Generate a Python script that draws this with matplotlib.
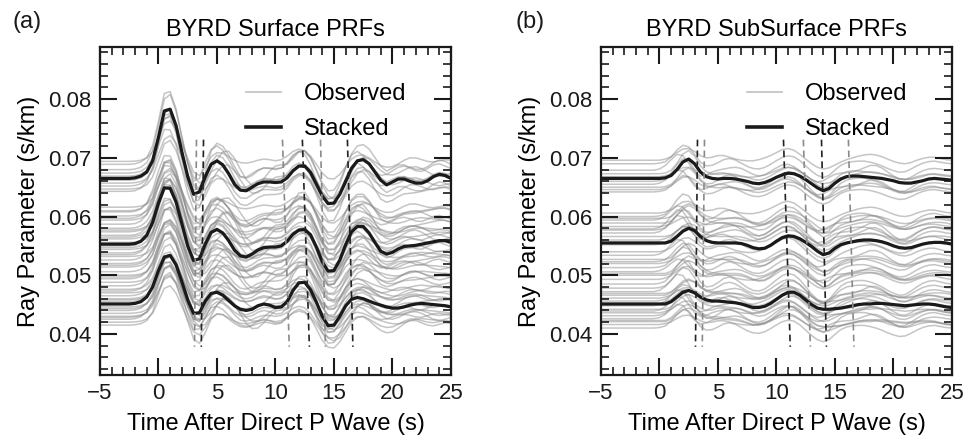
import numpy as np
import matplotlib
matplotlib.use("Agg")
import matplotlib.pyplot as plt
from matplotlib.ticker import MultipleLocator

plt.rcParams['font.family'] = ['Liberation Sans', 'DejaVu Sans']

# sample times (s), every 0.5 s from -5 to 25
time = np.arange(-5, 25.01, 0.5)

# ---- panel (a) surface PRFs, stacked traces (ray parameter x 1e-3) ----
stack_a_top = [66.5, 66.5, 66.5, 66.5, 66.5, 66.5, 66.6, 66.9, 67.6, 69.5,
               73.5, 78.0, 78.3, 75.5, 71.0, 66.8, 63.8, 64.2, 66.8, 68.9,
               69.5, 68.8, 67.3, 65.5, 64.5, 64.4, 65.0, 65.6, 65.9, 65.9,
               65.8, 65.9, 66.6, 67.8, 68.6, 68.6, 67.5, 65.5, 63.5, 62.2,
               62.3, 63.8, 66.0, 68.2, 69.5, 69.7, 69.0, 67.6, 66.2, 65.4,
               65.9, 66.4, 66.4, 66.0, 65.7, 65.7, 66.1, 66.8, 67.2, 67.0,
               66.5]
stack_a_mid = [55.3, 55.3, 55.3, 55.3, 55.3, 55.3, 55.4, 55.8, 56.8, 59.0,
               62.3, 64.9, 64.8, 62.5, 58.8, 55.0, 52.5, 52.8, 55.3, 57.3,
               57.8, 57.2, 55.9, 54.3, 53.3, 53.1, 53.6, 54.3, 54.7, 54.8,
               54.8, 55.0, 55.8, 57.0, 57.7, 57.8, 56.9, 54.8, 52.3, 50.7,
               50.8, 52.6, 55.2, 57.4, 58.3, 58.3, 57.2, 55.6, 54.1, 53.6,
               53.9, 54.5, 54.9, 55.0, 55.1, 55.3, 55.5, 55.7, 55.9, 55.9,
               55.6]
stack_a_bot = [45.1, 45.1, 45.1, 45.1, 45.1, 45.1, 45.2, 45.5, 46.3, 48.0,
               50.8, 53.1, 53.4, 51.8, 48.9, 45.8, 43.5, 43.6, 45.6, 46.9,
               47.1, 46.6, 45.7, 44.8, 44.2, 44.0, 44.2, 44.8, 45.1, 44.9,
               44.5, 44.6, 45.5, 47.4, 48.7, 48.8, 47.5, 45.4, 43.0, 41.4,
               41.5, 43.0, 44.8, 45.9, 46.2, 46.0, 45.6, 45.2, 44.9, 44.6,
               44.4, 44.4, 44.6, 44.9, 45.1, 45.2, 45.1, 45.0, 44.9, 44.8,
               44.6]

# observed trace shapes (amplitude above own baseline, x 1e-3)
obs_a_v1 = [0, 0, 0, 0, 0, 0, 0.1, 0.4, 1.2, 3.2,
            7.5, 12.0, 12.8, 10.0, 5.5, 1.0, -2.5, -3.2, -0.5, 3.2,
            4.5, 4.0, 2.5, 0.5, -1.2, -1.5, -1.0, -0.2, 0.3, 0.2,
            0.0, 0.3, 1.2, 2.5, 3.1, 2.6, 0.8, -1.8, -4.0, -5.0,
            -4.6, -2.5, 0.3, 2.5, 3.1, 2.4, 1.0, -0.3, -1.0, -0.8,
            -0.2, 0.4, 0.6, 0.3, -0.2, -0.3, 0.2, 0.8, 1.0, 0.6,
            0.2]
obs_a_v2 = [0, 0, 0, 0, 0, 0, 0.05, 0.2, 0.6, 1.7,
            4.0, 6.4, 6.9, 5.5, 3.0, 0.5, -1.8, -2.4, -1.0, 0.8,
            1.5, 1.4, 0.8, 0.2, -0.2, -0.3, -0.1, 0.2, 0.4, 0.3,
            0.1, 0.3, 0.9, 1.7, 2.1, 1.8, 0.9, -0.5, -2.0, -2.9,
            -3.0, -2.2, -0.9, 0.4, 1.0, 1.1, 0.6, -0.1, -0.7, -1.0,
            -0.9, -0.4, 0.2, 0.6, 0.6, 0.3, 0.0, -0.1, 0.1, 0.3,
            0.2]
obs_a_v3 = [0, 0, 0, 0, 0, 0, 0.1, 0.3, 0.9, 2.4,
            5.5, 8.3, 9.0, 7.6, 4.8, 1.8, -0.6, -1.5, -1.2, 0.3,
            2.1, 3.3, 3.4, 2.3, 0.6, -1.0, -1.9, -1.8, -0.9, 0.3,
            1.1, 1.3, 1.4, 2.3, 3.3, 3.5, 2.5, 0.5, -1.8, -3.5,
            -4.0, -3.4, -1.8, 0.2, 1.8, 2.5, 2.2, 1.3, 0.4, -0.2,
            -0.3, 0.0, 0.5, 0.9, 1.0, 0.7, 0.2, -0.3, -0.5, -0.3,
            0.0]

# observed traces: baseline (x 1e-3), shape id, gain
# shape ids: 0-2 stacked top/mid/bottom, 3-5 observed variants
obs_a_base = [69.4, 68.9, 68.0, 67.4, 66.9, 66.2, 65.7, 65.2, 64.7, 64.3,
              61.6, 60.8, 60.1, 59.4, 58.7, 58.0, 57.4, 56.8, 56.2, 55.6,
              55.0, 54.4, 53.8, 53.2, 52.6, 52.0, 51.4,
              50.6, 50.0, 49.4, 48.8, 48.2, 47.6, 47.0, 46.5, 46.0, 45.5,
              44.6, 44.0, 43.5, 43.0, 42.5, 42.0, 41.5,
              61.0, 59.7, 57.7, 56.5, 54.7, 53.5, 51.7,
              49.7, 47.3, 45.8, 44.3, 42.8]
obs_a_shape = [4, 0, 3, 5, 0, 3, 5, 0, 4, 1,
               4, 1, 5, 3, 1, 2, 5, 1, 3, 4,
               1, 5, 2, 4, 1, 3, 5,
               2, 4, 1, 5, 2, 3, 4, 2, 5, 1,
               4, 2, 5, 3, 2, 4, 4,
               1, 2, 4, 5, 3, 1, 2,
               5, 2, 4, 3, 5]
obs_a_gain = [1.0, 1.05, 1.0, 1.1, 0.9, 0.95, 0.9, 1.0, 1.2, 1.1,
              0.9, 1.0, 0.9, 0.8, 1.1, 1.0, 1.0, 0.9, 0.7, 1.0,
              1.2, 0.8, 1.1, 0.9, 0.9, 0.75, 0.9,
              1.0, 1.1, 0.8, 0.85, 1.1, 0.6, 0.9, 0.9, 0.8, 0.7,
              1.0, 1.0, 0.7, 0.55, 1.1, 0.9, 1.3,
              0.8, 1.2, 1.1, 1.2, 0.9, 1.0, 0.9,
              1.0, 1.2, 1.1, 0.7, 1.0]

# ---- panel (b) subsurface PRFs ----
stack_b_top = [66.5, 66.5, 66.5, 66.5, 66.5, 66.5, 66.5, 66.5, 66.5, 66.5,
               66.5, 66.6, 67.0, 68.0, 69.3, 69.8, 69.0, 67.6, 66.8, 66.5,
               66.4, 66.5, 66.5, 66.4, 66.2, 66.0, 65.7, 65.6, 65.8, 66.2,
               66.7, 67.1, 67.4, 67.3, 66.9, 66.3, 65.6, 64.9, 64.4, 64.8,
               65.7, 66.4, 66.8, 66.9, 66.9, 66.8, 66.7, 66.6, 66.5, 66.3,
               66.1, 65.8, 65.7, 65.7, 65.9, 66.1, 66.4, 66.5, 66.4, 66.3,
               66.2]
stack_b_mid = [55.5, 55.5, 55.5, 55.5, 55.5, 55.5, 55.5, 55.5, 55.5, 55.5,
               55.5, 55.5, 55.8, 56.6, 57.5, 58.0, 57.6, 56.6, 55.9, 55.6,
               55.5, 55.5, 55.5, 55.5, 55.4, 55.1, 54.7, 54.5, 54.6, 55.1,
               55.8, 56.4, 56.7, 56.6, 56.2, 55.6, 54.9, 54.1, 53.5, 53.8,
               54.6, 55.2, 55.5, 55.7, 55.9, 56.0, 56.0, 55.9, 55.7, 55.4,
               55.0, 54.7, 54.6, 54.7, 55.0, 55.3, 55.5, 55.6, 55.6, 55.5,
               55.3]
stack_b_bot = [45.1, 45.1, 45.1, 45.1, 45.1, 45.1, 45.1, 45.1, 45.1, 45.1,
               45.1, 45.1, 45.5, 46.3, 47.1, 47.4, 47.0, 46.3, 45.8, 45.6,
               45.6, 45.5, 45.4, 45.3, 45.1, 44.8, 44.5, 44.5, 44.7, 45.2,
               45.9, 46.6, 47.1, 47.1, 46.6, 45.8, 45.0, 44.4, 44.2, 44.2,
               44.3, 44.4, 44.6, 44.8, 45.0, 45.1, 45.1, 45.2, 45.2, 45.1,
               45.0, 44.9, 44.8, 44.9, 45.0, 45.1, 45.1, 45.0, 44.8, 44.6,
               44.5]

obs_b_v1 = [0, 0, 0, 0, 0, 0, 0, 0, 0, 0,
            0.1, 0.4, 1.3, 2.6, 3.5, 3.2, 1.8, 0.3, -0.4, -0.3,
            0.2, 0.8, 1.0, 0.7, 0.1, -0.5, -0.9, -1.0, -0.7, -0.1,
            0.6, 1.2, 1.5, 1.3, 0.6, -0.4, -1.4, -2.2, -2.6, -2.2,
            -1.2, -0.3, 0.2, 0.4, 0.5, 0.5, 0.3, 0.0, -0.4, -0.9,
            -1.3, -1.6, -1.5, -1.0, -0.4, 0.1, 0.4, 0.5, 0.3, 0.1,
            0.0]
obs_b_v2 = [0, 0, 0, 0, 0, 0, 0, 0, 0, 0,
            0.0, 0.2, 0.6, 1.3, 1.9, 2.0, 1.5, 0.8, 0.4, 0.5,
            0.8, 0.8, 0.5, 0.2, 0.0, -0.1, -0.1, 0.1, 0.4, 0.8,
            1.3, 1.8, 2.0, 1.7, 1.0, 0.2, -0.6, -1.2, -1.5, -1.3,
            -0.8, -0.3, 0.1, 0.4, 0.7, 0.9, 1.0, 0.9, 0.6, 0.2,
            -0.2, -0.5, -0.6, -0.4, 0.0, 0.3, 0.5, 0.5, 0.3, 0.1,
            0.0]
obs_b_v3 = [0, 0, 0, 0, 0, 0, 0, 0, 0, 0,
            0.2, 0.8, 1.8, 2.7, 2.5, 1.2, -0.3, -1.0, -0.8, -0.3,
            0.0, 0.2, 0.4, 0.5, 0.3, -0.2, -0.7, -1.0, -0.8, -0.2,
            0.4, 0.9, 1.0, 0.6, -0.1, -0.9, -1.6, -2.0, -1.8, -1.2,
            -0.7, -0.5, -0.4, -0.3, 0.0, 0.4, 0.8, 0.8, 0.4, -0.3,
            -1.0, -1.5, -1.6, -1.2, -0.6, -0.1, 0.2, 0.3, 0.2, 0.0,
            -0.1]

obs_b_base = [69.6, 69.0, 67.9, 67.3, 66.8, 66.0, 65.5, 65.0, 64.6, 64.2,
              60.6, 60.0, 59.4, 58.9, 58.3, 57.7, 57.2, 56.6, 56.0, 55.2,
              53.4, 52.7, 52.0, 51.3, 50.6, 50.0, 49.3,
              47.8, 47.2, 46.6, 46.1, 45.6, 44.8, 44.2, 43.6, 43.1, 42.6,
              42.1, 41.6, 41.0,
              59.7, 57.9, 55.6, 54.0, 52.3, 50.3, 48.5, 46.9, 45.2, 43.9,
              42.3]
obs_b_shape = [4, 3, 5, 0, 4, 3, 5, 0, 4, 3,
               4, 3, 5, 1, 4, 3, 5, 1, 4, 3,
               5, 1, 4, 3, 5, 1, 4,
               3, 5, 2, 4, 3, 5, 2, 4, 3, 5,
               2, 4, 3,
               1, 5, 1, 4, 3, 1, 3, 1, 4, 5,
               2]
obs_b_gain = [1.0, 0.9, 1.0, 1.2, 0.8, 1.1, 0.9, 1.0, 1.1, 0.8,
              1.0, 1.1, 0.9, 1.2, 0.8, 1.0, 1.1, 0.9, 1.2, 0.9,
              1.0, 1.1, 0.9, 1.0, 0.8, 1.0, 1.1,
              1.0, 1.1, 1.2, 0.9, 0.8, 1.0, 1.1, 1.0, 1.1, 0.9,
              1.0, 0.8, 0.9,
              1.0, 1.2, 1.1, 1.2, 0.9, 1.2, 1.2, 0.9, 1.2, 0.9,
              1.2]

# moveout of marked phases: time at top (p=0.0731) and bottom (p=0.0378)
phase_t_top = [3.25, 3.85, 10.6, 12.3, 13.85, 16.15]
phase_t_bot = [3.08, 3.66, 11.18, 12.9, 14.27, 16.62]
phase_p = [0.0731, 0.0378]
phase_col_a = ['#8a8a8a', '#222222', '#8a8a8a', '#222222', '#8a8a8a', '#222222']
phase_col_b = ['#222222', '#8a8a8a', '#222222', '#8a8a8a', '#222222', '#8a8a8a']


def draw_panel(ax, stacks, variants, base, shape_id, gain, phase_col, title):
    stacks = [np.array(s) / 1000 for s in stacks]
    shapes = [s - s[0] for s in stacks] + [np.array(v) / 1000 for v in variants]
    for b, k, g in zip(base, shape_id, gain):
        ax.plot(time, b / 1000 + g * shapes[k], color='0.55', alpha=0.5,
                lw=1.1, zorder=1)
    for s in stacks:
        ax.plot(time, s, color='#1a1a1a', lw=2.3, zorder=3)
    for t0, t1, c in zip(phase_t_top, phase_t_bot, phase_col):
        ax.plot([t0, t1], phase_p, color=c, lw=1.2, ls=(0, (4, 2.5)), zorder=4)

    # legend proxies
    ax.plot([], [], color='0.55', alpha=0.5, lw=1.3, label='Observed')
    ax.plot([], [], color='#1a1a1a', lw=2.6, label='Stacked')
    ax.legend(loc='upper left', bbox_to_anchor=(0.39, 0.918), frameon=False,
              fontsize=17, handlelength=1.45, handletextpad=1.0,
              labelspacing=0.55, borderaxespad=0)

    ax.set_xlim(-5, 25)
    ax.set_ylim(0.0330, 0.0889)
    ax.xaxis.set_minor_locator(MultipleLocator(1))
    ax.yaxis.set_minor_locator(MultipleLocator(0.002))
    ax.set_yticks([0.04, 0.05, 0.06, 0.07, 0.08])
    ax.set_xticks([-5, 0, 5, 10, 15, 20, 25])
    ax.set_xticklabels(['\u22125', '0', '5', '10', '15', '20', '25'])
    ax.tick_params(which='both', direction='in', top=True, right=True,
                   labelsize=16, colors='#1a1a1a')
    ax.tick_params(which='major', length=12, width=1.5, pad=6)
    ax.tick_params(which='minor', length=5.5, width=1.2)
    for sp in ax.spines.values():
        sp.set_linewidth(1.6)
        sp.set_color('#1a1a1a')
    ax.set_xlabel('Time After Direct P Wave (s)', fontsize=17, labelpad=6)
    ax.set_ylabel('Ray Parameter (s/km)', fontsize=17, labelpad=6)
    ax.set_title(title, fontsize=17, pad=8)


fig = plt.figure(figsize=(9.64, 4.37), dpi=100)
ax_a = fig.add_axes([0.1037, 0.1419, 0.3641, 0.7506])
ax_b = fig.add_axes([0.6234, 0.1419, 0.3641, 0.7506])

draw_panel(ax_a, [stack_a_top, stack_a_mid, stack_a_bot],
           [obs_a_v1, obs_a_v2, obs_a_v3],
           obs_a_base, obs_a_shape, obs_a_gain, phase_col_a,
           'BYRD Surface PRFs')
draw_panel(ax_b, [stack_b_top, stack_b_mid, stack_b_bot],
           [obs_b_v1, obs_b_v2, obs_b_v3],
           obs_b_base, obs_b_shape, obs_b_gain, phase_col_b,
           'BYRD SubSurface PRFs')

fig.text(0.013, 0.975, '(a)', fontsize=17, va='top', color='#1a1a1a')
fig.text(0.535, 0.975, '(b)', fontsize=17, va='top', color='#1a1a1a')

fig.savefig('out.png', dpi=100)
